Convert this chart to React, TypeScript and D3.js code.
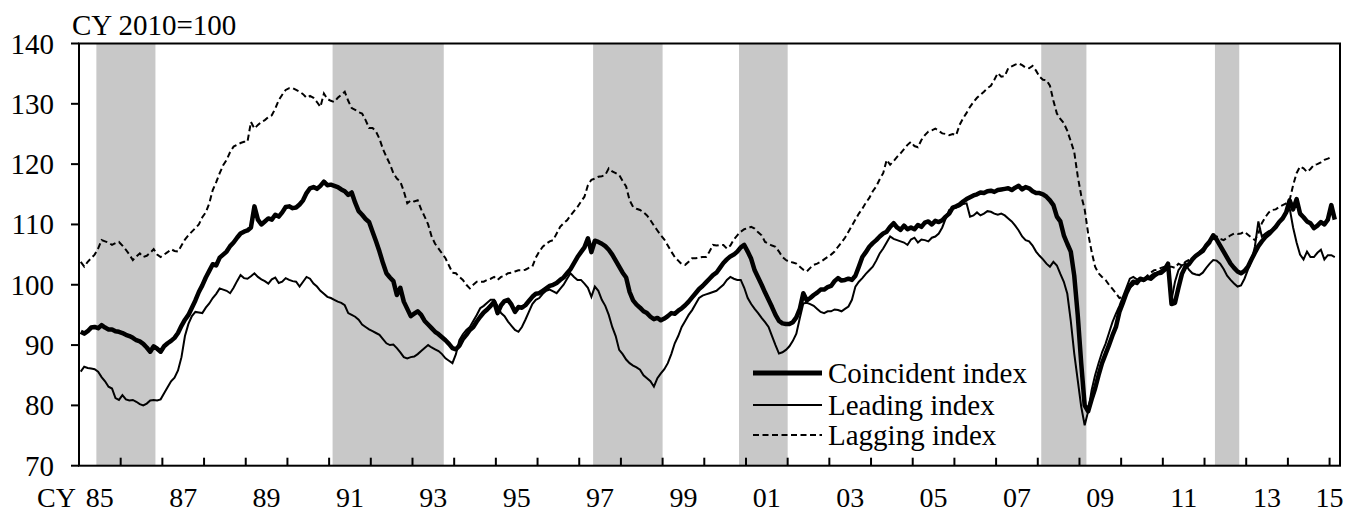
import React from "react";
import * as d3 from "d3";

// Monthly values, Jan 1985 onward (CY 2010 = 100)
const coincident: number[] = [
  92.2, 91.9, 92.3, 92.9, 93.0, 92.8, 93.3, 92.9, 92.6, 92.6, 92.3, 92.2, // 1985
  92.0, 91.7, 91.5, 91.2, 90.8, 90.6, 90.2, 89.6, 88.9, 89.8, 89.4, 88.9, // 1986
  89.8, 90.3, 90.7, 91.2, 92.0, 93.2, 94.2, 95.0, 96.2, 97.4, 98.8, 99.9, // 1987
  101.2, 102.3, 103.4, 103.2, 104.5, 105.0, 105.5, 106.4, 107.0, 107.8, 108.5, 108.8, // 1988
  109.0, 109.5, 113.0, 110.8, 110.0, 110.5, 111.0, 110.8, 111.6, 111.3, 112.0, 112.9, // 1989
  113.0, 112.7, 112.8, 113.3, 114.0, 115.2, 116.0, 116.2, 115.9, 116.4, 117.1, 116.5, // 1990
  116.6, 116.4, 116.2, 115.8, 115.5, 114.9, 115.3, 113.6, 112.2, 111.6, 110.9, 110.4, // 1991
  108.8, 107.2, 105.5, 103.6, 101.9, 101.2, 100.6, 98.3, 99.5, 97.2, 96.0, 94.8, // 1992
  95.2, 95.6, 95.0, 94.0, 93.4, 92.8, 92.2, 91.8, 91.3, 90.8, 90.2, 89.5, // 1993
  89.3, 89.9, 91.0, 91.7, 92.5, 93.0, 93.9, 94.7, 95.4, 95.9, 96.5, 97.2, // 1994
  95.3, 96.6, 97.3, 97.5, 96.7, 95.5, 96.3, 96.2, 96.6, 97.3, 98.0, 98.5, // 1995
  98.6, 99.0, 99.4, 99.8, 100.0, 100.3, 100.8, 101.2, 101.9, 102.6, 103.6, 104.6, // 1996
  105.4, 106.2, 107.7, 105.4, 107.3, 107.1, 106.8, 106.4, 105.8, 105.0, 104.0, 103.0, // 1997
  102.0, 101.2, 98.8, 97.4, 96.7, 96.2, 95.6, 95.3, 94.7, 94.3, 94.5, 94.1, // 1998
  94.4, 94.8, 95.3, 95.2, 95.7, 96.1, 96.6, 97.2, 97.9, 98.6, 99.3, 99.8, // 1999
  100.4, 101.0, 101.6, 102.0, 102.8, 103.6, 104.2, 104.7, 105.0, 105.5, 106.2, 106.6, // 2000
  105.5, 104.3, 102.4, 101.2, 100.0, 98.7, 97.5, 96.3, 95.0, 94.0, 93.6, 93.5, // 2001
  93.5, 93.8, 94.6, 96.0, 98.6, 97.4, 97.8, 98.3, 98.7, 99.2, 99.2, 99.6, // 2002
  99.8, 100.6, 101.1, 100.7, 100.8, 101.0, 100.8, 101.5, 103.0, 104.6, 105.4, 106.3, // 2003
  106.9, 107.4, 108.0, 108.5, 108.8, 109.6, 110.2, 109.5, 109.1, 109.8, 109.2, 109.5, // 2004
  109.2, 109.9, 109.6, 110.3, 110.5, 110.0, 110.6, 110.4, 110.7, 111.3, 111.8, 112.8, // 2005
  113.0, 113.3, 113.8, 114.2, 114.5, 114.8, 115.0, 115.3, 115.2, 115.5, 115.6, 115.4, // 2006
  115.7, 115.8, 115.9, 116.0, 115.7, 116.1, 116.4, 115.8, 116.2, 116.0, 115.5, 115.2, // 2007
  115.2, 115.0, 114.6, 114.0, 113.2, 111.3, 110.5, 108.2, 106.8, 105.5, 101.5, 95.0, // 2008
  87.0, 80.0, 79.0, 81.0, 82.8, 85.0, 87.0, 88.5, 90.0, 91.6, 93.0, 95.5, // 2009
  97.0, 98.6, 99.8, 100.5, 100.3, 101.0, 100.8, 101.2, 101.0, 101.5, 101.9, 102.0, // 2010
  102.5, 103.5, 96.8, 97.0, 99.5, 101.8, 103.0, 103.4, 104.2, 104.8, 105.2, 105.6, // 2011
  106.5, 107.2, 108.2, 107.5, 106.5, 105.5, 104.5, 103.5, 102.8, 102.2, 101.9, 102.3, // 2012
  103.0, 104.2, 105.3, 106.4, 107.2, 107.9, 108.4, 109.0, 109.6, 110.4, 111.0, 112.0, // 2013
  114.0, 112.5, 114.2, 111.8, 111.2, 110.5, 110.2, 109.4, 109.8, 110.4, 110.0, 110.8, // 2014
  113.2, 110.8, // 2015
];

const leading: number[] = [
  85.6, 86.4, 86.2, 86.1, 86.0, 85.6, 84.7, 84.0, 83.1, 82.8, 81.2, 80.9, // 1985
  81.7, 81.0, 80.8, 80.9, 80.6, 80.2, 80.0, 80.3, 80.8, 80.9, 80.8, 81.0, // 1986
  82.0, 83.0, 84.0, 84.6, 85.8, 88.0, 91.5, 93.5, 94.8, 95.5, 95.4, 95.3, // 1987
  96.2, 96.9, 97.8, 98.5, 99.4, 99.2, 99.0, 98.6, 99.5, 100.6, 101.6, 101.1, // 1988
  101.0, 101.4, 101.9, 101.3, 100.9, 100.6, 100.2, 100.9, 101.2, 100.3, 100.5, 101.1, // 1989
  100.8, 100.6, 100.5, 99.7, 100.5, 101.3, 101.0, 100.2, 99.7, 99.0, 98.5, 98.0, // 1990
  97.8, 97.5, 97.2, 97.0, 96.6, 95.3, 95.0, 94.7, 94.2, 93.4, 93.0, 92.6, // 1991
  92.3, 92.0, 91.7, 91.0, 90.3, 90.0, 90.1, 89.5, 88.8, 88.0, 87.8, 88.0, // 1992
  88.1, 88.5, 89.0, 89.5, 90.0, 89.6, 89.3, 89.0, 88.5, 87.8, 87.4, 87.0, // 1993
  88.5, 90.8, 91.8, 92.5, 93.0, 94.0, 95.0, 96.1, 96.5, 97.0, 97.5, 97.5, // 1994
  96.5, 95.3, 94.8, 93.9, 93.2, 92.5, 92.2, 93.0, 94.2, 95.5, 96.8, 97.5, // 1995
  97.8, 98.5, 99.0, 99.2, 98.9, 98.6, 99.3, 100.0, 101.0, 101.9, 101.3, 100.8, // 1996
  100.8, 100.2, 99.5, 98.0, 99.7, 99.0, 97.5, 96.5, 95.0, 93.0, 91.5, 89.2, // 1997
  88.5, 87.6, 87.0, 86.6, 86.3, 85.9, 85.0, 84.5, 84.0, 83.1, 84.5, 85.3, // 1998
  86.0, 87.0, 88.5, 90.3, 91.5, 93.0, 94.0, 95.0, 95.8, 96.8, 97.8, 98.2, // 1999
  98.4, 98.6, 98.8, 99.0, 99.5, 100.0, 100.8, 101.3, 101.0, 100.8, 100.8, 99.5, // 2000
  97.8, 96.8, 96.0, 95.3, 94.5, 93.8, 93.0, 91.5, 90.0, 88.6, 88.8, 89.2, // 2001
  89.8, 90.7, 91.9, 94.5, 96.9, 97.0, 96.8, 96.5, 96.0, 95.5, 95.3, 95.6, // 2002
  95.6, 95.9, 95.8, 95.6, 96.0, 96.4, 97.5, 99.7, 100.5, 101.1, 101.8, 102.4, // 2003
  103.0, 104.0, 105.2, 106.0, 107.0, 108.0, 107.6, 107.4, 107.2, 107.0, 106.6, 107.5, // 2004
  107.8, 107.0, 107.5, 107.4, 107.2, 107.8, 108.0, 108.5, 109.5, 111.0, 112.4, 112.6, // 2005
  112.8, 113.0, 113.4, 113.5, 111.3, 111.5, 112.0, 111.5, 111.8, 112.2, 112.1, 111.8, // 2006
  111.6, 111.8, 111.5, 111.0, 110.5, 109.8, 109.0, 108.0, 107.4, 107.2, 106.5, 105.5, // 2007
  104.8, 104.2, 103.5, 103.0, 103.8, 103.2, 101.8, 100.5, 98.5, 94.0, 88.6, 84.2, // 2008
  79.8, 76.7, 79.0, 82.5, 85.0, 87.0, 88.8, 90.2, 92.0, 93.8, 95.2, 96.5, // 2009
  98.0, 99.5, 101.0, 101.3, 100.9, 100.8, 100.6, 101.0, 101.5, 101.9, 102.0, 102.4, // 2010
  102.8, 103.0, 97.5, 100.5, 102.4, 103.2, 103.5, 102.5, 101.9, 101.7, 101.6, 102.0, // 2011
  102.8, 103.5, 104.1, 104.0, 103.5, 102.6, 101.5, 100.8, 100.2, 99.7, 99.9, 101.0, // 2012
  102.5, 104.0, 106.3, 110.5, 108.0, 108.5, 108.9, 109.1, 109.8, 110.5, 111.2, 111.8, // 2013
  112.7, 109.5, 107.0, 105.0, 104.2, 105.5, 104.6, 104.6, 105.3, 105.8, 104.2, 104.9, // 2014
  104.9, 104.6, // 2015
];

const lagging: number[] = [
  103.8, 103.0, 103.8, 104.4, 105.0, 106.0, 107.4, 107.2, 107.0, 106.6, 106.9, 107.1, // 1985
  106.5, 105.8, 105.0, 104.1, 104.7, 105.2, 104.6, 104.8, 105.3, 105.9, 105.0, 104.6, // 1986
  105.0, 105.4, 105.9, 105.6, 105.5, 106.5, 107.5, 108.2, 108.8, 109.4, 110.0, 111.2, // 1987
  112.0, 113.5, 115.7, 117.0, 118.5, 119.8, 120.7, 122.0, 122.9, 123.2, 123.5, 123.7, // 1988
  123.7, 127.0, 125.9, 126.5, 127.0, 127.3, 127.8, 128.1, 129.2, 130.6, 131.5, 132.3, // 1989
  132.6, 132.6, 132.3, 132.0, 131.6, 131.0, 131.3, 131.0, 130.3, 129.5, 131.7, 130.8, // 1990
  130.5, 130.3, 131.0, 131.5, 132.0, 130.5, 129.3, 129.0, 128.6, 128.4, 127.3, 126.0, // 1991
  126.0, 125.4, 124.2, 122.5, 121.2, 120.0, 118.5, 117.6, 117.1, 115.5, 113.5, 114.0, // 1992
  113.8, 114.0, 112.5, 111.3, 110.0, 108.0, 106.8, 106.0, 105.2, 104.4, 103.2, 102.0, // 1993
  101.9, 101.3, 100.8, 100.0, 99.4, 100.0, 100.5, 100.5, 100.5, 100.8, 101.0, 101.3, // 1994
  100.8, 101.3, 101.5, 101.9, 102.0, 102.2, 102.4, 102.4, 102.5, 102.8, 103.0, 104.5, // 1995
  105.5, 106.3, 106.8, 107.2, 107.4, 108.5, 109.6, 110.2, 110.7, 111.5, 112.2, 112.9, // 1996
  113.8, 114.6, 116.5, 117.4, 117.6, 117.9, 118.0, 118.2, 119.3, 118.8, 118.5, 118.2, // 1997
  117.2, 116.3, 114.0, 112.9, 112.6, 112.4, 112.0, 111.5, 110.7, 109.8, 109.0, 108.2, // 1998
  107.5, 106.5, 105.5, 104.6, 104.0, 103.4, 103.3, 103.8, 104.4, 104.4, 104.5, 104.6, // 1999
  104.6, 105.5, 106.6, 106.5, 106.6, 106.6, 106.0, 106.5, 107.5, 108.2, 108.8, 109.2, // 2000
  109.4, 109.6, 109.3, 108.7, 108.2, 107.1, 106.8, 106.5, 106.3, 105.5, 104.6, 104.1, // 2001
  103.8, 103.7, 103.5, 103.0, 102.5, 102.2, 102.8, 103.3, 103.5, 103.8, 104.2, 104.6, // 2002
  105.0, 105.5, 106.3, 107.0, 107.8, 108.8, 109.8, 110.8, 111.8, 112.6, 113.6, 114.4, // 2003
  115.5, 116.3, 117.5, 118.5, 120.7, 119.9, 120.5, 121.2, 121.8, 122.5, 123.2, 123.7, // 2004
  123.0, 122.8, 124.0, 124.8, 125.4, 125.6, 125.9, 125.5, 125.1, 125.0, 124.8, 125.0, // 2005
  124.8, 126.5, 127.6, 128.5, 129.5, 130.3, 131.0, 131.5, 132.0, 132.6, 133.0, 134.0, // 2006
  135.1, 134.5, 134.6, 135.9, 136.2, 136.5, 136.7, 136.4, 136.0, 135.9, 136.3, 135.5, // 2007
  134.5, 134.0, 133.9, 133.0, 130.5, 128.4, 127.5, 126.8, 125.5, 123.8, 122.0, 118.0, // 2008
  114.8, 112.5, 108.5, 105.5, 103.0, 101.9, 101.3, 100.8, 100.0, 99.3, 98.6, 97.8, // 2009
  98.0, 98.8, 99.5, 100.0, 100.8, 101.0, 100.8, 101.5, 102.0, 102.4, 102.5, 102.8, // 2010
  103.0, 103.0, 103.0, 102.8, 103.5, 103.2, 103.8, 104.1, 104.3, 104.8, 105.5, 106.0, // 2011
  106.2, 106.8, 107.5, 108.0, 107.6, 107.4, 107.8, 108.2, 108.5, 108.4, 108.5, 108.8, // 2012
  108.3, 107.8, 107.4, 108.5, 110.2, 111.2, 112.0, 112.4, 112.5, 112.9, 113.2, 113.5, // 2013
  114.0, 116.5, 118.5, 119.6, 119.3, 118.7, 119.2, 119.9, 120.0, 120.3, 120.7, 120.9, // 2014
  121.2, // 2015
];

// Recession periods as [start month index, end month index] from Jan 1985
const recessionStart: number[] = [5, 73, 148, 190, 277, 327];
const recessionEnd: number[] = [22, 105, 168, 204, 290, 334];

const yTicks: number[] = [70, 80, 90, 100, 110, 120, 130, 140];
const xLabels: string[] = ["85", "87", "89", "91", "93", "95", "97", "99", "01", "03", "05", "07", "09", "11", "13", "15"];
const legendLabels: string[] = ["Coincident index", "Leading index", "Lagging index"];

const W = 1349;
const H = 513;
const L = 79;
const R = 1340;
const T = 43.5;
const B = 465.7;
const FONT = "'Liberation Serif', 'Times New Roman', serif";
const FS = 29;
const XFS = 28;
const DASH = "6 3.5";

export default function App() {
  const x = d3.scaleLinear().domain([0, 363]).range([L, R]);
  const y = d3.scaleLinear().domain([70, 140]).range([B, T]);
  const line = d3
    .line<number>()
    .x((_, i) => x(i + 0.5))
    .y((d) => y(d));

  const yearTicks = d3.range(1, 31).map((k) => k * 12);

  const legendY = [373, 405, 435];
  const xBase = 506.5;

  return (
    <svg
      width={W}
      height={H}
      style={{ position: "absolute", left: 0, top: 0, background: "#fff" }}
      fontFamily={FONT}
    >
      <rect x={0} y={0} width={W} height={H} fill="#fff" />
      {recessionStart.map((s, i) => (
        <rect
          key={"b" + i}
          x={x(s)}
          y={T}
          width={x(recessionEnd[i]) - x(s)}
          height={B - T}
          fill="#c8c8c8"
        />
      ))}
      <path d={line(lagging) || ""} fill="none" stroke="#000" strokeWidth={2} strokeDasharray={DASH} />
      <path d={line(leading) || ""} fill="none" stroke="#000" strokeWidth={2} />
      <path d={line(coincident) || ""} fill="none" stroke="#000" strokeWidth={4.5} strokeLinejoin="round" />

      {/* frame */}
      <rect x={L} y={T} width={R - L} height={B - T} fill="none" stroke="#000" strokeWidth={2} />
      {yTicks.map((v) => (
        <g key={"y" + v}>
          <line x1={L - 8} x2={L} y1={y(v)} y2={y(v)} stroke="#000" strokeWidth={2} />
          <text x={54} y={y(v) + 10} fontSize={FS} textAnchor="end" fill="#000">
            {v}
          </text>
        </g>
      ))}
      {yearTicks.map((m) => (
        <line key={"t" + m} x1={x(m)} x2={x(m)} y1={B} y2={B - 8} stroke="#000" strokeWidth={2} />
      ))}
      {xLabels.map((lab, i) => {
        const m = i * 24;
        const cx = lab === "15" ? x(m) : x(m + 6);
        return (
          <text key={"xl" + lab} x={cx} y={xBase} fontSize={XFS} textAnchor="middle" fill="#000">
            {lab}
          </text>
        );
      })}
      <text x={37} y={xBase} fontSize={XFS} fill="#000">
        CY
      </text>
      <text x={72} y={35} fontSize={FS} fill="#000">
        CY 2010=100
      </text>

      {/* legend */}
      {legendLabels.map((lab, i) => (
        <g key={"lg" + i}>
          <line
            x1={753}
            x2={822}
            y1={legendY[i]}
            y2={legendY[i]}
            stroke="#000"
            strokeWidth={i === 0 ? 5 : 2}
            strokeDasharray={i === 2 ? DASH : undefined}
          />
          <text x={828} y={legendY[i] + 10} fontSize={FS} fill="#000">
            {lab}
          </text>
        </g>
      ))}
    </svg>
  );
}
